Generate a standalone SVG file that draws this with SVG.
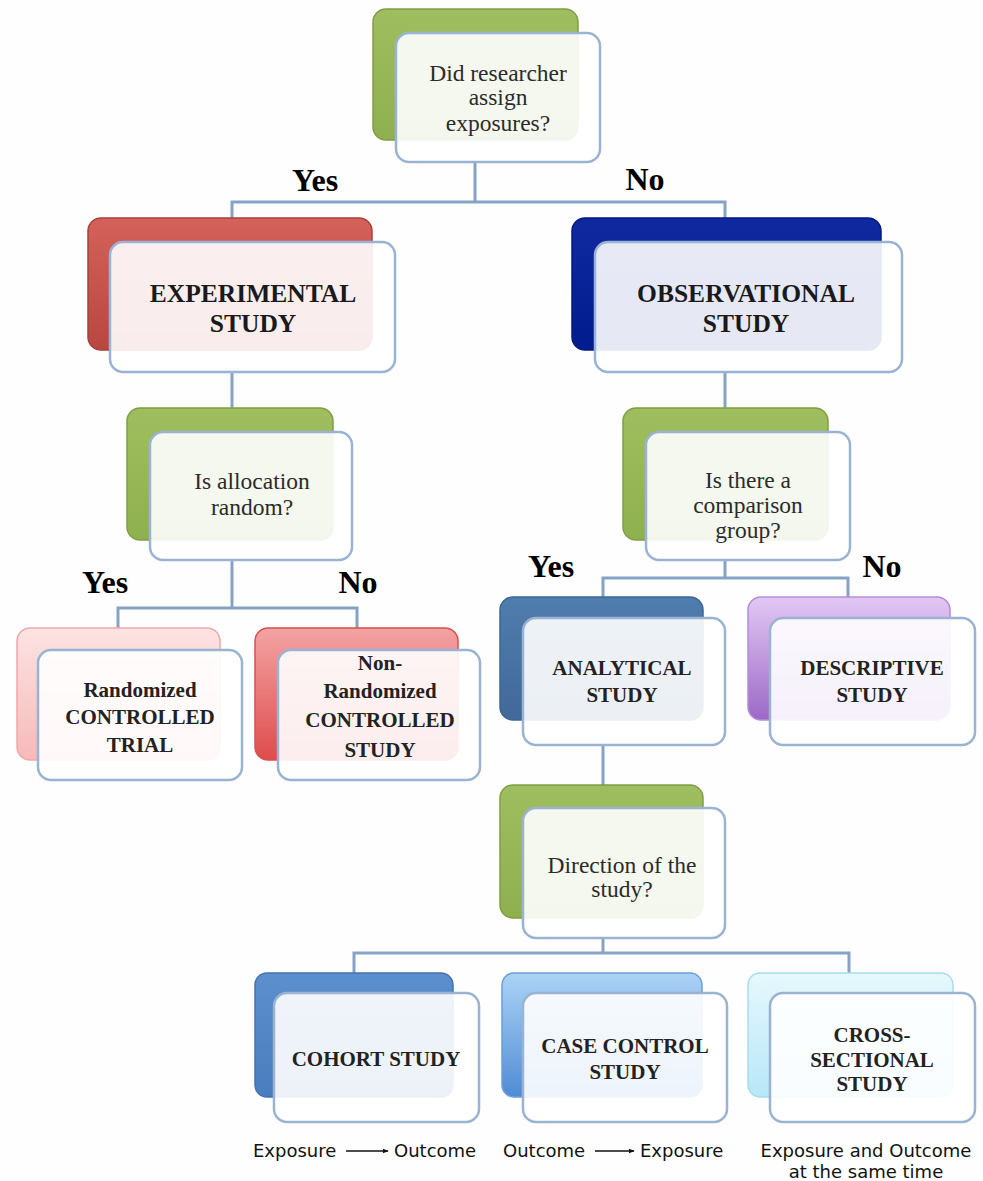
<svg xmlns="http://www.w3.org/2000/svg" width="983" height="1181" viewBox="0 0 983 1181">
<style>
.bg{fill:#fefefe}
.back{stroke-width:1.5}
.front{fill:#ffffff;fill-opacity:0.9;stroke:#9ab3d3;stroke-width:2.5}
.inner{fill:#000;fill-opacity:0.03}
.q{font-family:"Liberation Serif",serif;font-size:23.5px;fill:#2b2b2b;text-anchor:middle}
.t{font-family:"Liberation Serif",serif;font-size:25.5px;font-weight:bold;fill:#1a1a1a;text-anchor:middle}
.s{font-family:"Liberation Serif",serif;font-size:21px;font-weight:bold;fill:#222;text-anchor:middle}
.yn{font-family:"Liberation Serif",serif;font-size:32px;font-weight:bold;fill:#000;text-anchor:middle}
.lab{font-family:"DejaVu Sans",sans-serif;font-size:18px;fill:#111}
.conn{fill:none;stroke:#86a3c6;stroke-width:3}
</style>
<defs>
<linearGradient id="gGreen" x1="0" y1="0" x2="0" y2="1"><stop offset="0" stop-color="#9fbe5f"/><stop offset="1" stop-color="#8fb04e"/></linearGradient>
<linearGradient id="gRed" x1="0" y1="0" x2="0" y2="1"><stop offset="0" stop-color="#d4625b"/><stop offset="1" stop-color="#b84741"/></linearGradient>
<linearGradient id="gBlue" x1="0" y1="0" x2="0" y2="1"><stop offset="0" stop-color="#10299f"/><stop offset="1" stop-color="#001c8e"/></linearGradient>
<linearGradient id="gPink" x1="0" y1="0" x2="0" y2="1"><stop offset="0" stop-color="#fde3e3"/><stop offset="1" stop-color="#f6b9b9"/></linearGradient>
<linearGradient id="gRed2" x1="0" y1="0" x2="0" y2="1"><stop offset="0" stop-color="#f3a3a3"/><stop offset="1" stop-color="#df4c4c"/></linearGradient>
<linearGradient id="gSteel" x1="0" y1="0" x2="0" y2="1"><stop offset="0" stop-color="#4f7dad"/><stop offset="1" stop-color="#41699a"/></linearGradient>
<linearGradient id="gPurple" x1="0" y1="0" x2="0" y2="1"><stop offset="0" stop-color="#e2c8f4"/><stop offset="1" stop-color="#9c68c7"/></linearGradient>
<linearGradient id="gCohort" x1="0" y1="0" x2="0" y2="1"><stop offset="0" stop-color="#5c8fcd"/><stop offset="1" stop-color="#4a7dbd"/></linearGradient>
<linearGradient id="gCase" x1="0" y1="0" x2="0" y2="1"><stop offset="0" stop-color="#acd3f6"/><stop offset="1" stop-color="#4f8cd4"/></linearGradient>
<linearGradient id="gCyan" x1="0" y1="0" x2="0" y2="1"><stop offset="0" stop-color="#e6f8fd"/><stop offset="1" stop-color="#b7e7f7"/></linearGradient>
<marker id="arr" viewBox="0 0 10 10" refX="9" refY="5" markerWidth="6" markerHeight="6" orient="auto" markerUnits="userSpaceOnUse"><path d="M0,1 L10,5 L0,9 Z" fill="#111"/></marker>
</defs>
<rect class="bg" x="0" y="0" width="983" height="1181"/>

<g id="connectors">
<path class="conn" d="M475,162 V202 M232,218 V202 H725 V218"/>
<path class="conn" d="M232,372 V408 M232,560 V608 M118,628 V608 H357 V628"/>
<path class="conn" d="M725,372 V408 M725,560 V578 M603,597 V578 H848 V597"/>
<path class="conn" d="M603,745 V785 M603,938 V953 M354,973 V953 H849 V973"/>
</g>

<g id="labels-yes-no">
<text class="yn" x="315" y="191">Yes</text>
<text class="yn" x="645" y="190">No</text>
<text class="yn" x="105" y="593">Yes</text>
<text class="yn" x="358" y="593">No</text>
<text class="yn" x="551" y="577">Yes</text>
<text class="yn" x="882" y="577">No</text>
</g>

<g id="q-assign">
<rect class="back" x="373" y="9" width="205" height="131" rx="13" fill="url(#gGreen)" stroke="#809e45"/>
<rect class="front" x="396" y="33" width="204" height="129" rx="13"/>
<text class="q" x="498" y="81">Did researcher</text>
<text class="q" x="498" y="105">assign</text>
<text class="q" x="498" y="131">exposures?</text>
</g>

<g id="experimental">
<rect class="back" x="88" y="218" width="284" height="132" rx="13" fill="url(#gRed)" stroke="#a8403b"/>
<rect class="front" x="110" y="242" width="285" height="130" rx="13"/>
<text class="t" x="253" y="302">EXPERIMENTAL</text>
<text class="t" x="253" y="332">STUDY</text>
</g>

<g id="observational">
<rect class="back" x="572" y="218" width="309" height="132" rx="13" fill="url(#gBlue)" stroke="#001a80"/>
<rect class="front" x="595" y="242" width="307" height="130" rx="13"/>
<text class="t" x="746" y="302">OBSERVATIONAL</text>
<text class="t" x="746" y="332">STUDY</text>
</g>

<g id="q-random">
<rect class="back" x="127" y="408" width="206" height="132" rx="13" fill="url(#gGreen)" stroke="#809e45"/>
<rect class="front" x="150" y="432" width="202" height="128" rx="13"/>
<text class="q" x="252" y="489">Is allocation</text>
<text class="q" x="252" y="515">random?</text>
</g>

<g id="q-comparison">
<rect class="back" x="623" y="408" width="205" height="132" rx="13" fill="url(#gGreen)" stroke="#809e45"/>
<rect class="front" x="646" y="432" width="204" height="128" rx="13"/>
<text class="q" x="748" y="488">Is there a</text>
<text class="q" x="748" y="513">comparison</text>
<text class="q" x="748" y="538">group?</text>
</g>

<g id="rct">
<rect class="back" x="17" y="628" width="203" height="132" rx="13" fill="url(#gPink)" stroke="#f0a8a8"/>
<rect class="front" x="38" y="650" width="204" height="130" rx="13"/>
<text class="s" x="140" y="697">Randomized</text>
<text class="s" x="140" y="724">CONTROLLED</text>
<text class="s" x="140" y="752">TRIAL</text>
</g>

<g id="non-random">
<rect class="back" x="255" y="628" width="203" height="132" rx="13" fill="url(#gRed2)" stroke="#d85050"/>
<rect class="front" x="278" y="650" width="202" height="130" rx="13"/>
<text class="s" x="380" y="670">Non-</text>
<text class="s" x="380" y="698">Randomized</text>
<text class="s" x="380" y="727">CONTROLLED</text>
<text class="s" x="380" y="757">STUDY</text>
</g>

<g id="analytical">
<rect class="back" x="500" y="597" width="203" height="123" rx="13" fill="url(#gSteel)" stroke="#3d6594"/>
<rect class="front" x="523" y="618" width="202" height="127" rx="13"/>
<text class="s" x="622" y="675">ANALYTICAL</text>
<text class="s" x="622" y="702">STUDY</text>
</g>

<g id="descriptive">
<rect class="back" x="748" y="597" width="202" height="123" rx="13" fill="url(#gPurple)" stroke="#b58cd8"/>
<rect class="front" x="770" y="618" width="205" height="127" rx="13"/>
<text class="s" x="872" y="675">DESCRIPTIVE</text>
<text class="s" x="872" y="702">STUDY</text>
</g>

<g id="q-direction">
<rect class="back" x="500" y="785" width="203" height="133" rx="13" fill="url(#gGreen)" stroke="#809e45"/>
<rect class="front" x="523" y="808" width="202" height="130" rx="13"/>
<text class="q" x="622" y="873">Direction of the</text>
<text class="q" x="622" y="897">study?</text>
</g>

<g id="cohort">
<rect class="back" x="255" y="973" width="198" height="124" rx="12" fill="url(#gCohort)" stroke="#4373b0"/>
<rect class="front" x="274" y="993" width="205" height="129" rx="13"/>
<text class="s" x="376" y="1066">COHORT STUDY</text>
</g>

<g id="case-control">
<rect class="back" x="502" y="973" width="200" height="124" rx="12" fill="url(#gCase)" stroke="#6a9fd9"/>
<rect class="front" x="523" y="993" width="204" height="129" rx="13"/>
<text class="s" x="625" y="1053">CASE CONTROL</text>
<text class="s" x="625" y="1079">STUDY</text>
</g>

<g id="cross-sectional">
<rect class="back" x="748" y="973" width="205" height="124" rx="12" fill="url(#gCyan)" stroke="#a9dcee"/>
<rect class="front" x="770" y="993" width="205" height="129" rx="13"/>
<text class="s" x="872" y="1042">CROSS-</text>
<text class="s" x="872" y="1067">SECTIONAL</text>
<text class="s" x="872" y="1091">STUDY</text>
</g>

<g id="bottom-labels">
<text class="lab" x="253" y="1157">Exposure</text>
<line x1="346" y1="1151" x2="388" y2="1151" stroke="#111" stroke-width="1.3" marker-end="url(#arr)"/>
<text class="lab" x="394" y="1157">Outcome</text>
<text class="lab" x="503" y="1157">Outcome</text>
<line x1="595" y1="1151" x2="634" y2="1151" stroke="#111" stroke-width="1.3" marker-end="url(#arr)"/>
<text class="lab" x="640" y="1157">Exposure</text>
<text class="lab" x="866" y="1157" text-anchor="middle">Exposure and Outcome</text>
<text class="lab" x="866" y="1178" text-anchor="middle">at the same time</text>
</g>
</svg>
